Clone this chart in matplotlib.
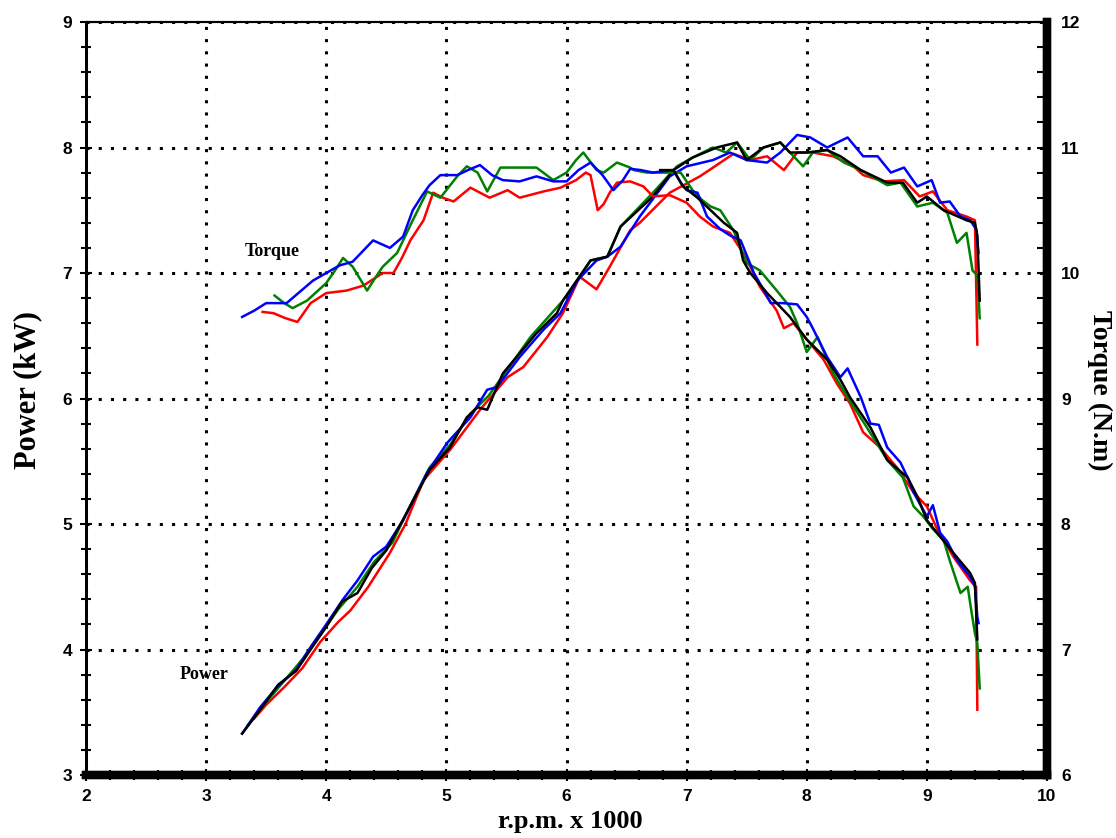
import matplotlib
matplotlib.use('Agg')
import matplotlib.pyplot as plt
from matplotlib.ticker import MultipleLocator
from matplotlib.font_manager import FontProperties

# Torque curves (N.m, right axis)
rpm_torque_blue = [3.30, 3.40, 3.50, 3.67, 3.78, 3.89, 4.00, 4.11, 4.22, 4.30, 4.39, 4.53, 4.64, 4.72, 4.80, 4.86, 4.95, 5.09, 5.18, 5.28, 5.38, 5.47, 5.61, 5.75, 5.89, 6.00, 6.10, 6.20, 6.30, 6.39, 6.47, 6.53, 6.62, 6.72, 6.80, 6.89, 6.95, 7.00, 7.09, 7.17, 7.28, 7.36, 7.45, 7.56, 7.62, 7.70, 7.80, 7.92, 8.00, 8.05, 8.17, 8.28, 8.34, 8.45, 8.53, 8.60, 8.67, 8.78, 8.84, 8.89, 9.00, 9.05, 9.11, 9.17, 9.25, 9.36, 9.40, 9.42, 9.43]
torque_blue = [9.65, 9.70, 9.76, 9.76, 9.85, 9.94, 10.00, 10.06, 10.09, 10.17, 10.26, 10.20, 10.29, 10.50, 10.62, 10.70, 10.78, 10.78, 10.82, 10.86, 10.78, 10.74, 10.73, 10.77, 10.73, 10.73, 10.82, 10.88, 10.78, 10.66, 10.74, 10.83, 10.82, 10.80, 10.81, 10.82, 10.72, 10.66, 10.64, 10.45, 10.35, 10.30, 10.26, 10.00, 9.90, 9.76, 9.76, 9.75, 9.65, 9.56, 9.33, 9.17, 9.24, 9.01, 8.80, 8.79, 8.61, 8.49, 8.37, 8.25, 8.06, 8.15, 7.93, 7.86, 7.71, 7.58, 7.50, 7.26, 7.21]

rpm_torque_red = [3.47, 3.56, 3.66, 3.76, 3.87, 4.00, 4.17, 4.31, 4.47, 4.56, 4.63, 4.70, 4.81, 4.89, 4.97, 5.06, 5.20, 5.36, 5.51, 5.61, 5.81, 5.95, 6.08, 6.16, 6.20, 6.26, 6.31, 6.36, 6.42, 6.53, 6.64, 6.72, 6.86, 7.00, 7.11, 7.22, 7.36, 7.47, 7.53, 7.61, 7.75, 7.81, 7.89, 8.00, 8.14, 8.25, 8.36, 8.47, 8.61, 8.75, 8.89, 9.00, 9.09, 9.22, 9.36, 9.41, 9.42]
torque_red = [9.69, 9.68, 9.64, 9.61, 9.76, 9.84, 9.86, 9.90, 10.00, 10.00, 10.12, 10.26, 10.42, 10.64, 10.60, 10.57, 10.68, 10.60, 10.66, 10.60, 10.65, 10.68, 10.74, 10.80, 10.78, 10.50, 10.55, 10.64, 10.72, 10.73, 10.69, 10.61, 10.62, 10.56, 10.45, 10.37, 10.32, 10.16, 10.05, 9.89, 9.70, 9.56, 9.60, 9.47, 9.31, 9.12, 8.96, 8.73, 8.61, 8.45, 8.25, 8.14, 7.95, 7.74, 7.55, 7.50, 6.52]

rpm_torque_green = [3.57, 3.65, 3.72, 3.84, 4.00, 4.08, 4.14, 4.22, 4.34, 4.40, 4.47, 4.59, 4.72, 4.84, 4.95, 5.09, 5.17, 5.26, 5.34, 5.45, 5.61, 5.75, 5.89, 6.00, 6.08, 6.14, 6.25, 6.31, 6.42, 6.53, 6.56, 6.67, 6.84, 6.95, 7.05, 7.13, 7.20, 7.28, 7.39, 7.50, 7.61, 7.75, 7.86, 7.92, 8.00, 8.09, 8.22, 8.34, 8.50, 8.67, 8.80, 8.89, 8.97, 9.05, 9.14, 9.19, 9.28, 9.34, 9.37, 9.40, 9.42, 9.44]
torque_green = [9.82, 9.76, 9.72, 9.78, 9.92, 10.03, 10.12, 10.05, 9.86, 9.95, 10.05, 10.16, 10.42, 10.65, 10.60, 10.77, 10.85, 10.80, 10.65, 10.84, 10.84, 10.84, 10.74, 10.80, 10.90, 10.96, 10.82, 10.80, 10.88, 10.84, 10.82, 10.80, 10.80, 10.80, 10.66, 10.58, 10.53, 10.50, 10.34, 10.08, 10.02, 9.86, 9.73, 9.60, 9.37, 9.49, 9.20, 9.01, 8.77, 8.51, 8.37, 8.14, 8.06, 7.96, 7.87, 7.71, 7.45, 7.50, 7.31, 7.13, 7.05, 6.69]

rpm_torque_black = [6.78, 6.89, 6.97, 7.09, 7.20, 7.31, 7.42, 7.47, 7.53, 7.67, 7.86, 8.00, 8.17, 8.28, 8.36, 8.53, 8.67, 8.84, 8.92, 9.00, 9.11, 9.22, 9.36, 9.40, 9.42]
torque_black = [10.82, 10.82, 10.69, 10.60, 10.50, 10.40, 10.32, 10.10, 10.00, 9.84, 9.65, 9.47, 9.31, 9.15, 9.01, 8.77, 8.51, 8.37, 8.22, 8.03, 7.90, 7.77, 7.61, 7.53, 7.08]

# Power curves (kW, left axis)
rpm_power_blue = [3.30, 3.45, 3.59, 3.75, 3.87, 4.00, 4.14, 4.26, 4.39, 4.50, 4.64, 4.84, 5.01, 5.20, 5.34, 5.42, 5.61, 5.81, 5.95, 6.09, 6.25, 6.34, 6.45, 6.61, 6.86, 7.00, 7.22, 7.36, 7.50, 7.67, 7.78, 7.92, 8.03, 8.17, 8.34, 8.47, 8.59, 8.70, 8.81, 8.92, 9.04, 9.11, 9.19, 9.28, 9.36, 9.41, 9.43]
power_blue = [3.33, 3.54, 3.70, 3.84, 4.02, 4.20, 4.40, 4.55, 4.74, 4.82, 5.03, 5.41, 5.65, 5.85, 6.07, 6.09, 6.33, 6.55, 6.68, 6.94, 7.10, 7.13, 7.21, 7.45, 7.77, 7.85, 7.90, 7.96, 7.90, 7.88, 7.96, 8.10, 8.08, 8.00, 8.08, 7.93, 7.93, 7.80, 7.84, 7.69, 7.74, 7.56, 7.57, 7.45, 7.42, 7.35, 7.16]

rpm_power_red = [3.40, 3.50, 3.65, 3.80, 3.95, 4.10, 4.20, 4.35, 4.53, 4.66, 4.81, 5.03, 5.28, 5.51, 5.64, 5.84, 5.97, 6.11, 6.25, 6.36, 6.53, 6.61, 6.86, 7.11, 7.22, 7.39, 7.53, 7.67, 7.81, 7.92, 8.05, 8.22, 8.39, 8.47, 8.64, 8.81, 8.94, 9.05, 9.17, 9.33, 9.40, 9.42]
power_red = [3.45, 3.56, 3.70, 3.85, 4.06, 4.22, 4.31, 4.50, 4.77, 5.00, 5.35, 5.59, 5.91, 6.17, 6.25, 6.49, 6.68, 6.97, 6.87, 7.05, 7.34, 7.40, 7.64, 7.77, 7.84, 7.95, 7.90, 7.93, 7.82, 7.96, 7.96, 7.93, 7.85, 7.78, 7.73, 7.74, 7.61, 7.65, 7.50, 7.45, 7.42, 6.43]

rpm_power_green = [3.35, 3.50, 3.65, 3.80, 3.95, 4.10, 4.26, 4.40, 4.55, 4.67, 4.86, 5.03, 5.20, 5.35, 5.50, 5.70, 5.97, 6.10, 6.20, 6.34, 6.45, 6.72, 6.92, 7.05, 7.22, 7.33, 7.42, 7.53, 7.64, 7.78, 7.89, 7.97, 8.05, 8.17, 8.31, 8.45, 8.67, 8.78, 8.92, 9.05, 9.17, 9.25, 9.33, 9.38, 9.42, 9.44]
power_green = [3.40, 3.58, 3.75, 3.92, 4.12, 4.32, 4.50, 4.70, 4.85, 5.09, 5.45, 5.63, 5.88, 6.02, 6.22, 6.49, 6.78, 6.95, 7.10, 7.13, 7.37, 7.64, 7.85, 7.92, 8.00, 7.96, 8.04, 7.90, 8.00, 8.04, 7.93, 7.85, 7.96, 7.98, 7.88, 7.82, 7.70, 7.72, 7.53, 7.56, 7.48, 7.24, 7.32, 7.02, 6.98, 6.64]

rpm_power_black = [3.30, 3.45, 3.60, 3.75, 3.87, 4.00, 4.13, 4.26, 4.38, 4.50, 4.67, 4.86, 5.03, 5.17, 5.26, 5.34, 5.47, 5.75, 5.92, 5.97, 6.20, 6.34, 6.45, 6.72, 6.89, 7.05, 7.25, 7.42, 7.50, 7.64, 7.78, 7.86, 8.00, 8.17, 8.28, 8.45, 8.67, 8.80, 8.92, 9.00, 9.14, 9.33, 9.40, 9.42, 9.44]
power_black = [3.33, 3.52, 3.72, 3.83, 4.00, 4.18, 4.38, 4.45, 4.65, 4.79, 5.09, 5.43, 5.61, 5.85, 5.93, 5.91, 6.20, 6.52, 6.68, 6.78, 7.10, 7.13, 7.37, 7.61, 7.82, 7.92, 8.00, 8.04, 7.90, 8.00, 8.04, 7.96, 7.96, 7.98, 7.93, 7.82, 7.72, 7.72, 7.56, 7.61, 7.50, 7.42, 7.40, 7.30, 6.78]

fig = plt.figure(figsize=(11.16, 8.38), dpi=100)
ax = fig.add_axes([86 / 1116, 1 - 775 / 838, (1047 - 86) / 1116, (775 - 22) / 838])
ax2 = ax.twinx()

lw = 1.8
ax2.plot(rpm_torque_red, torque_red, color='#ff0000', lw=lw)
ax2.plot(rpm_torque_green, torque_green, color='#008000', lw=lw)
ax2.plot(rpm_torque_blue, torque_blue, color='#0000ff', lw=lw)
ax2.plot(rpm_torque_black, torque_black, color='black', lw=lw)

ax.plot(rpm_power_red, power_red, color='#ff0000', lw=lw)
ax.plot(rpm_power_green, power_green, color='#008000', lw=lw)
ax.plot(rpm_power_blue, power_blue, color='#0000ff', lw=lw)
ax.plot(rpm_power_black, power_black, color='black', lw=lw)

ax.set_xlim(2, 10)
ax.set_ylim(3, 9)
ax2.set_ylim(6, 12)

ax.xaxis.set_major_locator(MultipleLocator(1))
ax.xaxis.set_minor_locator(MultipleLocator(0.2))
ax.yaxis.set_major_locator(MultipleLocator(1))
ax.yaxis.set_minor_locator(MultipleLocator(0.2))
ax2.yaxis.set_major_locator(MultipleLocator(1))
ax2.yaxis.set_minor_locator(MultipleLocator(0.2))

ax.grid(True, which='major', color='black', linestyle=(0, (1, 3)), linewidth=2.2)
ax.set_axisbelow(True)

tick_font = FontProperties(family='Liberation Sans', weight='bold', size=12.5)
ax.tick_params(axis='both', which='both', direction='inout', width=1.5, color='black')
ax.tick_params(axis='both', which='major', length=8)
ax.tick_params(axis='both', which='minor', length=7)
ax.tick_params(axis='x', pad=6)
ax.tick_params(axis='y', pad=6)
ax2.tick_params(axis='y', which='both', direction='in', width=1.5, length=7, pad=10)
for lab in ax.get_xticklabels() + ax.get_yticklabels() + ax2.get_yticklabels():
    lab.set_fontproperties(tick_font)

for a in (ax, ax2):
    a.spines['left'].set_linewidth(2)
    a.spines['top'].set_linewidth(1.5)
    a.spines['bottom'].set_linewidth(6)
    a.spines['right'].set_linewidth(6)

serif = 'Liberation Serif'
ax.text(3.32, 7.17, 'Torque', fontsize=13, fontweight='bold', family=serif, va='center')
ax.text(2.78, 3.8, 'Power', fontsize=13, fontweight='bold', family=serif, va='center')

fig.text(28 / 1116, 1 - 390 / 838, 'Power (kW)', rotation=90, ha='center', va='center',
         fontsize=22, fontweight='bold', family=serif)
fig.text(1100 / 1116, 1 - 390 / 838, 'Torque (N.m)', rotation=270, ha='center', va='center',
         fontsize=20, fontweight='bold', family=serif)
fig.text(570 / 1116, 1 - 821 / 838, 'r.p.m. x 1000', ha='center', va='center',
         fontsize=19, fontweight='bold', family=serif)

fig.savefig('out.png', dpi=100)
